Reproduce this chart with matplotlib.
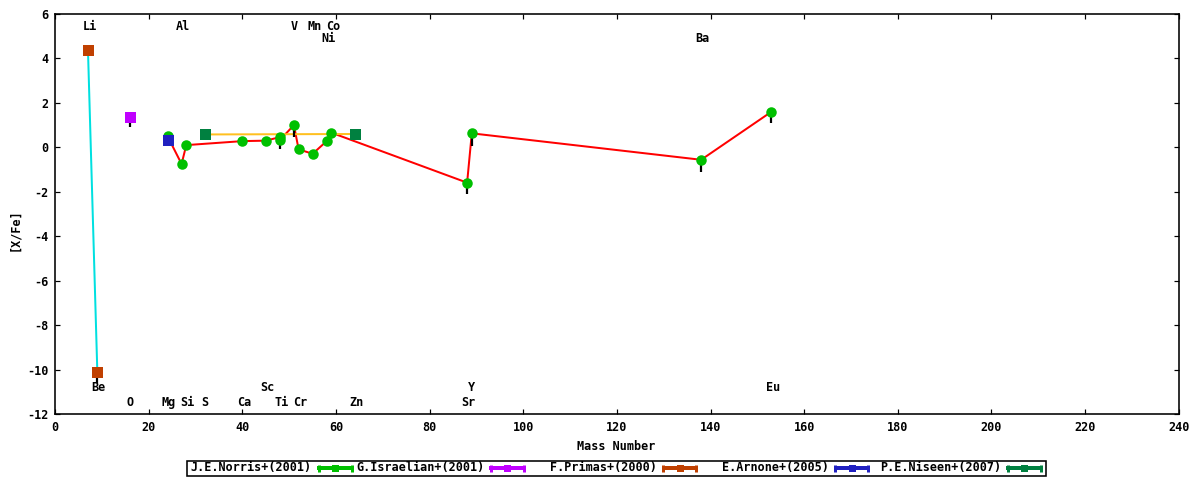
import matplotlib
matplotlib.use("Agg")
import matplotlib.pyplot as plt
from matplotlib.lines import Line2D
from matplotlib.patches import Rectangle
import matplotlib.transforms as mtransforms

# ---------------- data ----------------
norris_mass = [24, 27, 28, 40, 45, 48, 48, 51, 52, 55, 58, 59, 88, 89, 138, 153]
norris_val = [0.50, -0.75, 0.10, 0.28, 0.30, 0.46, 0.33, 1.00, -0.09, -0.29, 0.28, 0.66, -1.59, 0.63, -0.56, 1.60]
norris_err_low = [0, 0, 0, 0, 0, 0, 0.40, 0.55, 0, 0, 0, 0, 0.50, 0.55, 0.55, 0.50]

israelian_mass = [16]
israelian_val = [1.35]
israelian_err_low = [0.45]

primas_mass = [7, 9]
primas_val = [4.38, -10.10]
primas_err_low = [0, 0.50]

arnone_mass = [24]
arnone_val = [0.35]

niseen_mass = [32, 64]
niseen_val = [0.58, 0.60]

legend_labels = ["J.E.Norris+(2001)", "G.Israelian+(2001)", "F.Primas+(2000)",
                 "E.Arnone+(2005)", "P.E.Niseen+(2007)"]

top_labels = ["Li", "Al", "V", "Mn", "Co", "Ni", "Ba"]
top_label_mass = [7, 27, 51, 55, 59, 58, 138]
top_label_row = [0, 0, 0, 0, 0, 1, 1]

bottom_labels = ["Be", "Sc", "Y", "Eu", "O", "Mg", "Si", "S", "Ca", "Ti", "Cr", "Zn", "Sr"]
bottom_label_mass = [9, 45, 89, 153, 16, 24, 28, 32, 40, 48, 52, 64, 88]
bottom_label_row = [0, 0, 0, 0, 1, 1, 1, 1, 1, 1, 1, 1, 1]

xticks = list(range(0, 241, 20))
yticks = list(range(-12, 7, 2))

# ---------------- style ----------------
C_NORRIS = "#00c000"
C_NORRIS_LINE = "#ff0000"
C_ISRAELIAN = "#c000ff"
C_PRIMAS = "#c04000"
C_PRIMAS_LINE = "#00e0e0"
C_ARNONE = "#2020c0"
C_NISEEN = "#008040"
C_NISEEN_LINE = "#ffc020"

FONT = dict(family="DejaVu Sans Mono", weight="bold", size=8.5)

W, H = 1200, 480
fig = plt.figure(figsize=(W / 100, H / 100), dpi=100)
L, R, T, B = 55.2, 1178.6, 14, 414
ax = fig.add_axes([L / W, 1 - B / H, (R - L) / W, (B - T) / H])
ax.set_xlim(0, 240)
ax.set_ylim(-12, 6)

px = 72 / 100  # points per pixel

# lines
ax.plot(norris_mass, norris_val, color=C_NORRIS_LINE, lw=2.0 * px, zorder=2)
ax.plot(primas_mass, primas_val, color=C_PRIMAS_LINE, lw=2.0 * px, zorder=2)
ax.plot(niseen_mass, niseen_val, color=C_NISEEN_LINE, lw=2.0 * px, zorder=2.2)

# error bars (lower only)
def errs(x, y, low):
    ax.errorbar(x, y, yerr=[low, [0] * len(low)], fmt="none", ecolor="black",
                elinewidth=2.2 * px, capsize=0, zorder=2.5)

errs(norris_mass, norris_val, norris_err_low)
errs(israelian_mass, israelian_val, israelian_err_low)
errs(primas_mass, primas_val, primas_err_low)

# markers
ax.plot(norris_mass, norris_val, "o", color=C_NORRIS, ms=10.5 * px, mew=0, zorder=3)
ax.plot(israelian_mass, israelian_val, "s", color=C_ISRAELIAN, ms=11 * px, mew=0, zorder=3.1)
ax.plot(primas_mass, primas_val, "s", color=C_PRIMAS, ms=11 * px, mew=0, zorder=3.2)
ax.plot(arnone_mass, arnone_val, "s", color=C_ARNONE, ms=11 * px, mew=0, zorder=3.3)
ax.plot(niseen_mass, niseen_val, "s", color=C_NISEEN, ms=11 * px, mew=0, zorder=3.4)

# element labels
top_rows = [5.46, 4.92]
bot_rows = [-10.79, -11.50]
for lab, m, r in zip(top_labels, top_label_mass, top_label_row):
    off = mtransforms.offset_copy(ax.transData, fig=fig, x=1.5 * (len(lab) - 1), y=0, units="dots")
    ax.text(m, top_rows[r], lab, ha="center", va="center", transform=off, **FONT)
for lab, m, r in zip(bottom_labels, bottom_label_mass, bottom_label_row):
    off = mtransforms.offset_copy(ax.transData, fig=fig, x=1.5 * (len(lab) - 1), y=0, units="dots")
    ax.text(m, bot_rows[r], lab, ha="center", va="center", transform=off, **FONT)

# axes styling
ax.set_xticks(xticks)
ax.set_yticks(yticks)
ax.set_xticklabels([str(v) for v in xticks], **FONT)
ax.set_yticklabels([str(v) for v in yticks], **FONT)
ax.tick_params(direction="in", length=5 * px, width=1.2 * px, top=True, right=True,
               pad=5, colors="black")
for s in ax.spines.values():
    s.set_linewidth(1.6 * px)
    s.set_color("black")

fig.text(616 / W, 1 - 446 / H, "Mass Number", ha="center", va="center", **FONT)
fig.text(15 / W, 1 - 230 / H, "[X/Fe]", ha="center", va="center", rotation=90, **FONT)

# legend (gnuplot-like horizontal box)
bx0, bx1, by0, by1 = 186.5, 1045.5, 461, 475.5
fig.patches.append(Rectangle((bx0 / W, 1 - by1 / H), (bx1 - bx0) / W, (by1 - by0) / H,
                             transform=fig.transFigure, fill=False, edgecolor="black",
                             lw=1.6 * px, figure=fig))
colors = [C_NORRIS, C_ISRAELIAN, C_PRIMAS, C_ARNONE, C_NISEEN]
ly = 1 - 468 / H
for i, (lab, c) in enumerate(zip(legend_labels, colors)):
    sample_end = 353 + 172.3 * i
    sample_start = sample_end - 36
    fig.text((sample_start - 5) / W, ly, lab, ha="right", va="center", **FONT)
    fig.lines.append(Line2D([sample_start / W, sample_end / W], [ly, ly], transform=fig.transFigure,
                            color=c, lw=4 * px, solid_capstyle="butt"))
    for xe in (sample_start + 1.5, sample_end - 1.5):
        fig.lines.append(Line2D([xe / W, xe / W], [ly - 3.5 / H, ly + 3.5 / H],
                                transform=fig.transFigure, color=c, lw=3 * px,
                                solid_capstyle="butt"))
    fig.lines.append(Line2D([(sample_start + sample_end) / 2 / W], [ly], transform=fig.transFigure,
                            marker="s", ms=7 * px, color=c, mew=0, linestyle="none"))

fig.savefig("out.png", dpi=100, facecolor="white")
